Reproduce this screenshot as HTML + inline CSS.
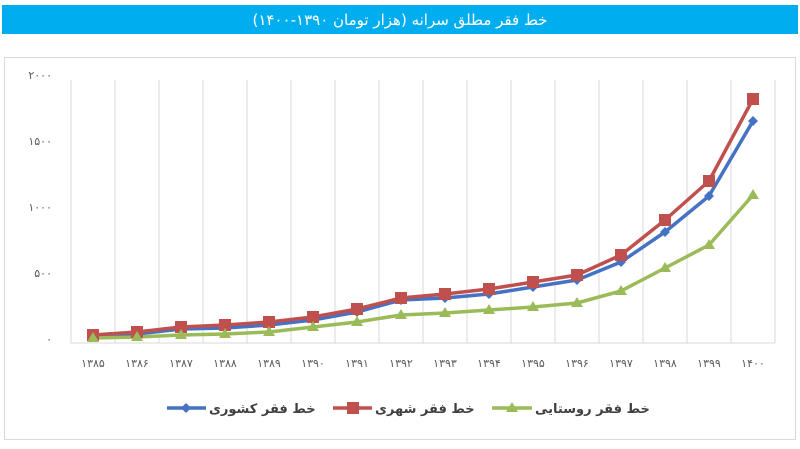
<!DOCTYPE html>
<html><head><meta charset="utf-8"><style>
body{margin:0;width:800px;height:444px;background:#fff;overflow:hidden;font-family:"Liberation Sans","Noto Sans CJK SC",sans-serif}
</style></head><body>
<svg width="800" height="444" xmlns="http://www.w3.org/2000/svg">
<rect x="2" y="5" width="796" height="29" fill="#00aeef"/>
<text x="400" y="25" fill="#fff" font-size="15" text-anchor="middle" direction="rtl" font-family="DejaVu Sans, sans-serif">خط فقر مطلق سرانه (هزار تومان ۱۳۹۰-۱۴۰۰)</text>
<rect x="4.5" y="57.5" width="791" height="382" fill="#fff" stroke="#d9d9d9"/>
<g stroke="#d9d9d9" stroke-width="1">
<line x1="71" y1="80" x2="71" y2="343"/><line x1="115" y1="80" x2="115" y2="343"/><line x1="159" y1="80" x2="159" y2="343"/><line x1="203" y1="80" x2="203" y2="343"/><line x1="247" y1="80" x2="247" y2="343"/><line x1="291" y1="80" x2="291" y2="343"/><line x1="335" y1="80" x2="335" y2="343"/><line x1="379" y1="80" x2="379" y2="343"/><line x1="423" y1="80" x2="423" y2="343"/><line x1="467" y1="80" x2="467" y2="343"/><line x1="511" y1="80" x2="511" y2="343"/><line x1="555" y1="80" x2="555" y2="343"/><line x1="599" y1="80" x2="599" y2="343"/><line x1="643" y1="80" x2="643" y2="343"/><line x1="687" y1="80" x2="687" y2="343"/><line x1="731" y1="80" x2="731" y2="343"/><line x1="775" y1="80" x2="775" y2="343"/>
<line x1="71" y1="343" x2="775" y2="343"/>
</g>
<g font-size="11" fill="#595959" text-anchor="end" font-family="DejaVu Sans, sans-serif">
<text x="52" y="79">۲۰۰۰</text><text x="52" y="145">۱۵۰۰</text><text x="52" y="211">۱۰۰۰</text><text x="52" y="277">۵۰۰</text><text x="52" y="343">۰</text>
</g>
<g font-size="11" fill="#595959" text-anchor="middle" font-family="DejaVu Sans, sans-serif" letter-spacing="2">
<text x="93" y="367">۱۳۸۵</text><text x="137" y="367">۱۳۸۶</text><text x="181" y="367">۱۳۸۷</text><text x="225" y="367">۱۳۸۸</text><text x="269" y="367">۱۳۸۹</text><text x="313" y="367">۱۳۹۰</text><text x="357" y="367">۱۳۹۱</text><text x="401" y="367">۱۳۹۲</text><text x="445" y="367">۱۳۹۳</text><text x="489" y="367">۱۳۹۴</text><text x="533" y="367">۱۳۹۵</text><text x="577" y="367">۱۳۹۶</text><text x="621" y="367">۱۳۹۷</text><text x="665" y="367">۱۳۹۸</text><text x="709" y="367">۱۳۹۹</text><text x="753" y="367">۱۴۰۰</text>
</g>
<g fill="none" stroke-width="3.5" stroke-linejoin="round">
<polyline stroke="#4472c4" points="93,336 137,334 181,329 225,328 269,325 313,320 357,312 401,300 445,298 489,294 533,287 577,280 621,262 665,232 709,196 753,121"/>
<polyline stroke="#c0504d" points="93,335 137,332 181,327 225,325 269,322 313,317 357,309 401,298 445,294 489,289 533,282 577,275 621,255 665,220 709,181 753,99"/>
<polyline stroke="#9bbb59" points="93,338 137,337 181,335 225,334 269,332 313,327 357,322 401,315 445,313 489,310 533,307 577,303 621,291 665,268 709,245 753,195"/>
</g>
<g fill="#4472c4">
<path d="M93,331l5,5-5,5-5-5z M137,329l5,5-5,5-5-5z M181,324l5,5-5,5-5-5z M225,323l5,5-5,5-5-5z M269,320l5,5-5,5-5-5z M313,315l5,5-5,5-5-5z M357,307l5,5-5,5-5-5z M401,295l5,5-5,5-5-5z M445,293l5,5-5,5-5-5z M489,289l5,5-5,5-5-5z M533,282l5,5-5,5-5-5z M577,275l5,5-5,5-5-5z M621,257l5,5-5,5-5-5z M665,227l5,5-5,5-5-5z M709,191l5,5-5,5-5-5z M753,116l5,5-5,5-5-5z"/>
</g>
<g fill="#c0504d">
<rect x="87" y="329" width="12" height="12"/><rect x="131" y="326" width="12" height="12"/><rect x="175" y="321" width="12" height="12"/><rect x="219" y="319" width="12" height="12"/><rect x="263" y="316" width="12" height="12"/><rect x="307" y="311" width="12" height="12"/><rect x="351" y="303" width="12" height="12"/><rect x="395" y="292" width="12" height="12"/><rect x="439" y="288" width="12" height="12"/><rect x="483" y="283" width="12" height="12"/><rect x="527" y="276" width="12" height="12"/><rect x="571" y="269" width="12" height="12"/><rect x="615" y="249" width="12" height="12"/><rect x="659" y="214" width="12" height="12"/><rect x="703" y="175" width="12" height="12"/><rect x="747" y="93" width="12" height="12"/>
</g>
<g fill="#9bbb59">
<path d="M93,332l6,10h-12z M137,331l6,10h-12z M181,329l6,10h-12z M225,328l6,10h-12z M269,326l6,10h-12z M313,321l6,10h-12z M357,316l6,10h-12z M401,309l6,10h-12z M445,307l6,10h-12z M489,304l6,10h-12z M533,301l6,10h-12z M577,297l6,10h-12z M621,285l6,10h-12z M665,262l6,10h-12z M709,239l6,10h-12z M753,189l6,10h-12z"/>
</g>
<g font-size="13" fill="#404040" font-family="DejaVu Sans, sans-serif" font-weight="bold">
<line x1="167" y1="408" x2="206" y2="408" stroke="#4472c4" stroke-width="3.5"/><path d="M186,403l5,5-5,5-5-5z" fill="#4472c4"/>
<text x="209" y="413">خط فقر کشوری</text>
<line x1="333" y1="408" x2="372" y2="408" stroke="#c0504d" stroke-width="3.5"/><rect x="347" y="402" width="12" height="12" fill="#c0504d"/>
<text x="375" y="413">خط فقر شهری</text>
<line x1="492" y1="408" x2="532" y2="408" stroke="#9bbb59" stroke-width="3.5"/><path d="M512,402l6,10h-12z" fill="#9bbb59"/>
<text x="535" y="413">خط فقر روستایی</text>
</g>
</svg>
</body></html>
